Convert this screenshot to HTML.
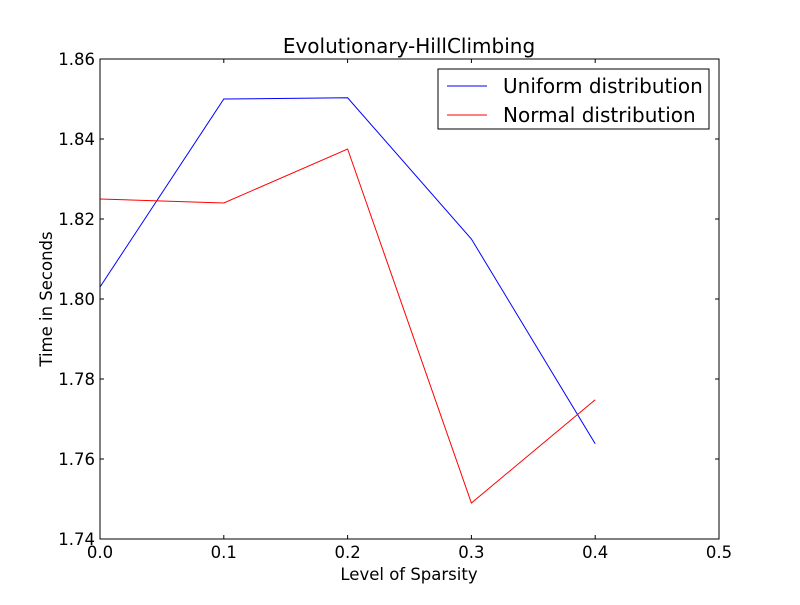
<!DOCTYPE html>
<html><head><meta charset="utf-8"><style>
body{margin:0;background:#fff}
svg text{font-family:"DejaVu Sans","Liberation Sans",sans-serif;fill:#000}
</style></head><body>
<svg id="c" width="800" height="600">
<rect width="800" height="600" fill="#fff"/>
<text x="409" y="53" font-size="20" text-anchor="middle">Evolutionary-HillClimbing</text>
<text x="409" y="580" font-size="16.5" text-anchor="middle">Level of Sparsity</text>
<text x="52" y="299" font-size="16.5" text-anchor="middle" transform="rotate(-90 52 299)">Time in Seconds</text>
<g id="ticks"></g>
<g id="series"></g>
<rect x="100" y="59" width="619" height="480" fill="none" stroke="#000" stroke-width="1"/>
<g>
<rect x="438" y="69" width="271" height="60" fill="#fff" stroke="#000"/>
<line x1="447" y1="86" x2="487" y2="86" stroke="#0000ff"/>
<text x="503" y="93" font-size="20">Uniform distribution</text>
<line x1="447" y1="115" x2="487" y2="115" stroke="#ff0000"/>
<text x="503" y="122" font-size="20">Normal distribution</text>
</g>
</svg>
<script>
const xValues=[0,0.1,0.2,0.3,0.4];
const uniformValues=[1.803,1.850,1.8503,1.815,1.7638];
const normalValues=[1.825,1.824,1.8375,1.749,1.7748];
const xTicks=[0,0.1,0.2,0.3,0.4,0.5];
const xTickLabels=["0.0","0.1","0.2","0.3","0.4","0.5"];
const yTicks=[1.74,1.76,1.78,1.80,1.82,1.84,1.86];
const yTickLabels=["1.74","1.76","1.78","1.80","1.82","1.84","1.86"];
const L=100,R=719,T=59,B=539;
const sx=v=>L+(v-0)/(0.5)*(R-L);
const sy=v=>B-(v-1.74)/(0.12)*(B-T);
const NS="http://www.w3.org/2000/svg";
const tg=document.getElementById('ticks'),sg=document.getElementById('series');
function mk(tag,attrs,parent){const e=document.createElementNS(NS,tag);for(const k in attrs)e.setAttribute(k,attrs[k]);parent.appendChild(e);return e;}
xTicks.forEach((v,i)=>{const x=sx(v);
 const a=mk('line',{x1:x,x2:x,y1:B,y2:B-4,stroke:'#000'},tg);
 
 
 const b=mk('line',{x1:x,x2:x,y1:T,y2:T+4,stroke:'#000'},tg);
 
 
 const t=mk('text',{x:x,y:B+19,'font-size':16.5,'text-anchor':'middle'},tg);t.textContent=xTickLabels[i];
 
 
});
yTicks.forEach((v,i)=>{const y=sy(v);
 const a=mk('line',{x1:L,x2:L+4,y1:y,y2:y,stroke:'#000'},tg);
 
 
 const b=mk('line',{x1:R,x2:R-4,y1:y,y2:y,stroke:'#000'},tg);
 
 
 const t=mk('text',{x:L-5,y:y+6,'font-size':16.5,'text-anchor':'end'},tg);t.textContent=yTickLabels[i];
 
 
});
function line(vals,color,name){
 const p=mk('polyline',{points:vals.map((v,i)=>sx(xValues[i])+','+sy(v)).join(' '),fill:'none',stroke:color,'stroke-width':1},sg);
 
 
}
line(uniformValues,'#0000ff','uniform-line');
line(normalValues,'#ff0000','normal-line');
</script>
</body></html>
